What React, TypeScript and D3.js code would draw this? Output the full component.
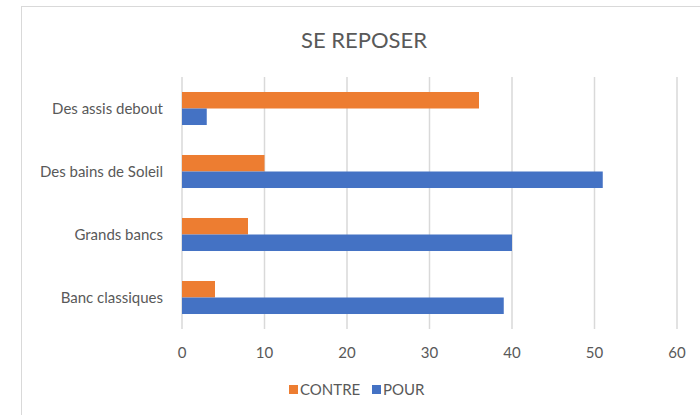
import React from "react";
import * as d3 from "d3";

const width = 700;
const height = 415;
const margin = { top: 77, right: 23, bottom: 86, left: 182 };

const title = "SE REPOSER";
const categories = ["Des assis debout", "Des bains de Soleil", "Grands bancs", "Banc classiques"];
const series = ["CONTRE", "POUR"];
const contre = [36, 10, 8, 4];
const pour = [3, 51, 40, 39];
const xTicks = [0, 10, 20, 30, 40, 50, 60];
const colors = ["#ED7D31", "#4472C4"];

const font = "Lato, 'Open Sans', sans-serif";
const textColor = "#595959";

export default function App() {
  const values = [contre, pour];

  const x = d3.scaleLinear()
    .domain([0, 60])
    .range([margin.left, width - margin.right]);

  const y = d3.scaleBand()
    .domain(categories)
    .range([margin.top, height - margin.bottom])
    .paddingInner(0.476)
    .paddingOuter(0.238);

  const ySub = d3.scaleBand()
    .domain(series)
    .range([0, y.bandwidth()]);

  return (
    <svg width={width} height={height} style={{ position: "absolute", left: 0, top: 0 }}>
      <rect x={0} y={0} width={width} height={height} fill="#fff" />
      {/* chart frame */}
      <rect x={21.5} y={6.5} width={width} height={height} fill="none" stroke="#D9D9D9" />

      <text x={364} y={48} textAnchor="middle" fontFamily={font} fontSize={22} fill={textColor}>
        {title}
      </text>

      {/* grid */}
      {xTicks.map((t) => (
        <line key={"g" + t} x1={x(t)} x2={x(t)} y1={margin.top} y2={height - margin.bottom}
          stroke="#D9D9D9" strokeWidth={1.5} />
      ))}

      {/* tick labels */}
      {xTicks.map((t) => (
        <text key={"t" + t} x={x(t)} y={358} textAnchor="middle" fontFamily={font} fontSize={15} fill={textColor}>
          {t}
        </text>
      ))}

      {/* category labels */}
      {categories.map((c) => (
        <text key={c} x={163} y={(y(c) as number) + y.bandwidth() / 2 + 5} textAnchor="end"
          fontFamily={font} fontSize={15} fill={textColor}>
          {c}
        </text>
      ))}

      {/* bars */}
      {categories.map((c, i) =>
        series.map((s, j) => (
          <rect key={c + s}
            x={x(0)}
            y={(y(c) as number) + (ySub(s) as number)}
            width={x(values[j][i]) - x(0)}
            height={ySub.bandwidth()}
            fill={colors[j]} />
        ))
      )}

      {/* legend */}
      <g fontFamily={font} fontSize={15} fill={textColor}>
        <rect x={289} y={385} width={9} height={9} fill={colors[0]} />
        <text x={300} y={395}>{series[0]}</text>
        <rect x={372} y={385} width={9} height={9} fill={colors[1]} />
        <text x={383} y={395}>{series[1]}</text>
      </g>
    </svg>
  );
}
